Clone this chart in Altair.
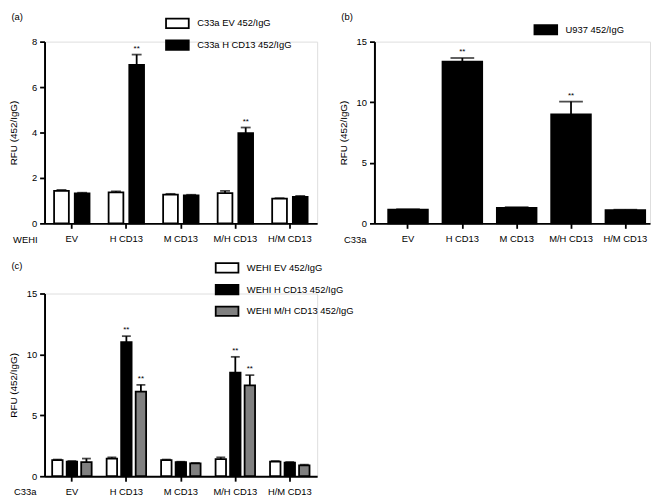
import altair as alt
import pandas as pd

FONT = "Liberation Sans"

categories = ["EV", "H CD13", "M CD13", "M/H CD13", "H/M CD13"]

# Panel (a)
a_series = ["C33a EV 452/IgG", "C33a H CD13 452/IgG"]
a_colors = ["white", "black"]
a_ev = [1.43, 1.36, 1.27, 1.33, 1.09]
a_ev_err = [0.04, 0.05, 0.03, 0.10, 0.02]
a_ev_sig = ["", "", "", "", ""]
a_h = [1.32, 6.98, 1.23, 3.97, 1.17]
a_h_err = [0.03, 0.45, 0.03, 0.25, 0.04]
a_h_sig = ["", "**", "", "**", ""]

# Panel (b)
b_series = ["U937 452/IgG"]
b_colors = ["black"]
b_u937 = [1.13, 13.35, 1.28, 9.0, 1.1]
b_u937_err = [0.04, 0.3, 0.06, 1.05, 0.03]
b_u937_sig = ["", "**", "", "**", ""]

# Panel (c)
c_series = ["WEHI EV 452/IgG", "WEHI H CD13 452/IgG", "WEHI M/H CD13 452/IgG"]
c_colors = ["white", "black", "#808080"]
c_ev = [1.33, 1.45, 1.33, 1.4, 1.2]
c_ev_err = [0.04, 0.1, 0.04, 0.15, 0.05]
c_ev_sig = ["", "", "", "", ""]
c_h = [1.2, 11.0, 1.15, 8.5, 1.12]
c_h_err = [0.05, 0.5, 0.04, 1.3, 0.05]
c_h_sig = ["", "**", "", "**", ""]
c_mh = [1.15, 6.95, 1.05, 7.45, 0.9]
c_mh_err = [0.3, 0.55, 0.04, 0.85, 0.05]
c_mh_sig = ["", "**", "", "**", ""]

SYMBOL = "M-2.3,-0.95H2.3V0.95H-2.3Z"


def make_df(series, values, errs, sigs):
    rows = []
    for s, vals, es, gs in zip(series, values, errs, sigs):
        for c, v, e, g in zip(categories, vals, es, gs):
            rows.append({"cat": c, "series": s, "value": v, "top": v + e, "sig": g})
    return pd.DataFrame(rows)


def panel(df, series, colors, ymax, yticks, xtitle, label, width, height,
          xscale, offscale, cap, legx, legy, label_y):
    xenc = alt.X(
        "cat:N", sort=categories, scale=xscale,
        axis=alt.Axis(title=xtitle, titleX=-20, titleY=11, titleAlign="center",
                      titleBaseline="top", titleFontWeight="normal",
                      titleFontSize=9.5, titleFont=FONT, titleColor="black",
                      labelAngle=0, labelFontSize=9.5, labelFont=FONT,
                      labelColor="black", labelPadding=5, tickSize=5,
                      tickWidth=1.8, tickColor="black", domainColor="black",
                      domainWidth=2, labelLimit=0),
    )
    xplain = alt.X("cat:N", sort=categories, axis=None)
    # top axis used only to carry the panel letter as its title
    xtop = alt.X(
        "cat:N", sort=categories,
        axis=alt.Axis(orient="top", title=label, domain=False, ticks=False,
                      labels=False, grid=False, titleX=-34, titleY=label_y,
                      titleAngle=0, titleAlign="left", titleBaseline="bottom",
                      titleFontWeight="normal", titleFontSize=9.5,
                      titleFont=FONT, titleColor="black"),
    )
    yenc = alt.Y(
        "value:Q", scale=alt.Scale(domain=[0, ymax], nice=False),
        axis=alt.Axis(values=yticks, title="RFU (452/IgG)", grid=False,
                      titleX=-31, titleY=height / 2, titleBaseline="middle",
                      titleAlign="center", titleFontWeight="normal",
                      titleFontSize=10, titleFont=FONT, titleColor="black",
                      labelFontSize=9.5, labelFont=FONT, labelColor="black",
                      labelPadding=3, tickSize=5, tickWidth=1.8,
                      tickColor="black", domainColor="black", domainWidth=2),
    )
    fill = alt.Fill(
        "series:N", sort=series,
        scale=alt.Scale(domain=series, range=colors),
        legend=alt.Legend(orient="none", legendX=legx, legendY=legy, title=None,
                          symbolType=SYMBOL, symbolSize=100,
                          symbolStrokeColor="black", symbolStrokeWidth=1.8,
                          labelFontSize=9.5, labelFont=FONT, labelColor="black",
                          labelOffset=14, rowPadding=4, padding=0, labelLimit=0),
    )
    off = {}
    if offscale is not None:
        off["xOffset"] = alt.XOffset("series:N", sort=series, scale=offscale)
    base = alt.Chart(df)
    bars = base.mark_bar(stroke="black", strokeWidth=1.8).encode(x=xenc, y=yenc, fill=fill, **off)
    err = base.mark_rule(color="black", strokeWidth=1.8).encode(x=xplain, y="value:Q", y2="top:Q", **off)
    caps = base.mark_tick(color="black", size=cap, thickness=1.8).encode(x=xplain, y="top:Q", **off)
    stars = base.mark_text(font=FONT, fontSize=8, color="black", dy=-4,
                           baseline="alphabetic").encode(x=xtop, y="top:Q", text="sig:N", **off)
    return alt.layer(bars, err, caps, stars).resolve_axis(x="independent").properties(
        width=width, height=height,
    )


df_a = make_df(a_series, [a_ev, a_h], [a_ev_err, a_h_err], [a_ev_sig, a_h_sig])
df_b = make_df(b_series, [b_u937], [b_u937_err], [b_u937_sig])
df_c = make_df(c_series, [c_ev, c_h, c_mh], [c_ev_err, c_h_err, c_mh_err],
               [c_ev_sig, c_h_sig, c_mh_sig])

pa = panel(df_a, a_series, a_colors, 8, [0, 2, 4, 6, 8], "WEHI", "(a)", 276, 184,
           alt.Scale(paddingInner=0.35, paddingOuter=0.175),
           alt.Scale(paddingInner=0.286, paddingOuter=0), 10, 128.5, -24.5, -20)
pb = panel(df_b, b_series, b_colors, 15, [0, 5, 10, 15], "C33a", "(b)", 279, 184,
           alt.Scale(paddingInner=0.27, paddingOuter=0.171, align=0.74),
           None, 24, 167.5, -18, -20)
pc = panel(df_c, c_series, c_colors, 15, [0, 5, 10, 15], "C33a", "(c)", 276, 185,
           alt.Scale(paddingInner=0.275, paddingOuter=0.14),
           alt.Scale(paddingInner=0.28, paddingOuter=0), 9, 178.8, -32, -23)

chart = alt.concat(
    pa, pb, pc, columns=2, spacing={"row": 71, "column": 58}, bounds="flush"
).resolve_scale(
    x="independent", y="independent", fill="independent", xOffset="independent"
).resolve_legend(fill="independent").properties(
    padding=0, background="white"
).configure_view(stroke=None).configure(font=FONT)

chart.save("out.html", embed_options={"renderer": "svg", "actions": False})
